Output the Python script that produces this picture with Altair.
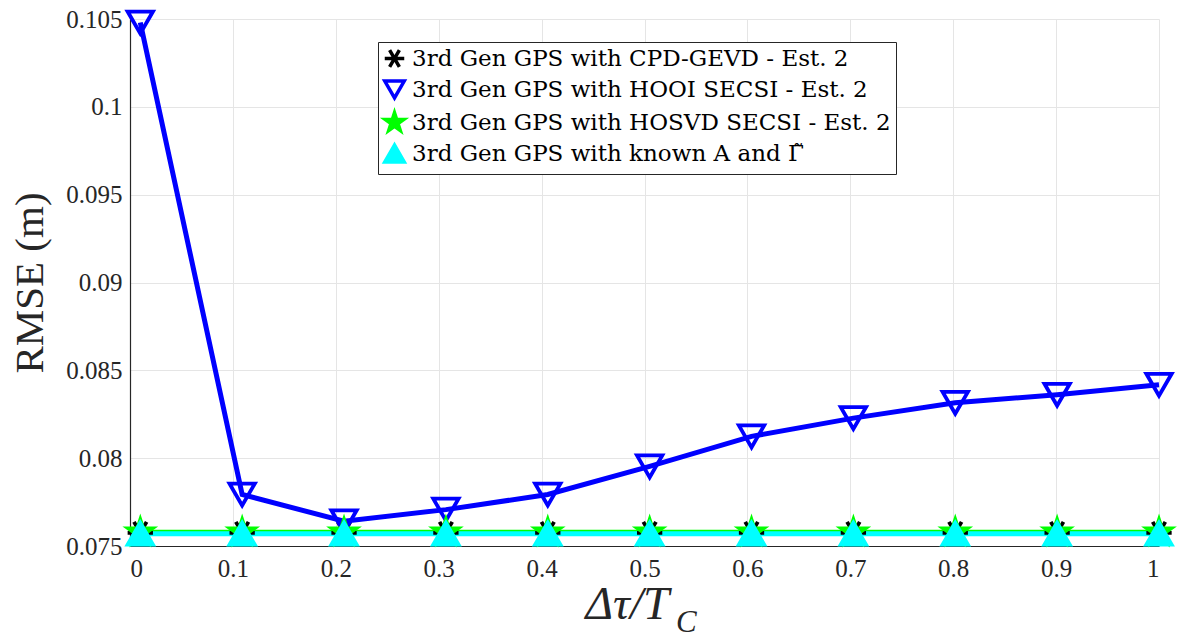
import altair as alt
import pandas as pd

x_vals = [0.01, 0.109, 0.208, 0.307, 0.406, 0.505, 0.604, 0.703, 0.802, 0.901, 1.0]
cpd_gevd = [0.07575] * 11
hooi_secsi = [0.1048, 0.07793, 0.07641, 0.07707, 0.07793, 0.07953, 0.08124, 0.08228, 0.08315, 0.08361, 0.08418]
hosvd_secsi = [0.07578] * 11
known_a = [0.07570] * 11

series_names = [
    "3rd Gen GPS with CPD-GEVD - Est. 2",
    "3rd Gen GPS with HOOI SECSI - Est. 2",
    "3rd Gen GPS with HOSVD SECSI - Est. 2",
    "3rd Gen GPS with known A and \u0393\u0303",
]
series_values = [cpd_gevd, hooi_secsi, hosvd_secsi, known_a]
y_ticks = [0.075, 0.08, 0.085, 0.09, 0.095, 0.1, 0.105]
x_ticks = [0, 0.1, 0.2, 0.3, 0.4, 0.5, 0.6, 0.7, 0.8, 0.9, 1.0]

rows = []
for order, (name, vals) in enumerate(zip(series_names, series_values)):
    for xv, yv in zip(x_vals, vals):
        rows.append({"x": xv, "y": yv, "series": name, "order": order})
df = pd.DataFrame(rows)

stroke_colors = ["#000000", "#0000ff", "#00ff00", "#00ffff"]
fill_colors = ["#000000", "transparent", "#00ff00", "#00ffff"]
asterisk = "M-1,0L1,0M-0.5,-0.866L0.5,0.866M-0.5,0.866L0.5,-0.866"
star = ("M0,-1L0.2245,-0.309L0.951,-0.309L0.363,0.118L0.588,0.809L0,0.382"
        "L-0.588,0.809L-0.363,0.118L-0.951,-0.309L-0.2245,-0.309Z")
shapes = [asterisk, "triangle-down", star, "triangle-up"]

FONT = "Liberation Serif"
LFONT = "DejaVu Serif"

xenc = alt.X("x:Q", scale=alt.Scale(domain=[0, 1], nice=False),
             axis=alt.Axis(values=x_ticks, format="~g", title="\u0394\u03c4/T",
                           titleFontSize=47, titleFontStyle="italic", titleFontWeight="normal",
                           titleX=455, titleY=72, titleAlign="left", titleBaseline="alphabetic",
                           labelPadding=10))
yenc = alt.Y("y:Q", scale=alt.Scale(domain=[0.075, 0.105], nice=False, zero=False),
             axis=alt.Axis(values=y_ticks, format="~g", title="RMSE (m)",
                           titleFontSize=41, titleFontWeight="normal", titlePadding=14,
                           labelPadding=8))

stroke_scale = alt.Scale(domain=series_names, range=stroke_colors)
legend = alt.Legend(title=None, orient="none", legendX=248, legendY=23,
                    labelFont=LFONT, labelFontSize=23)

lines = alt.Chart(df).mark_line(strokeWidth=5).encode(
    x=xenc, y=yenc,
    stroke=alt.Stroke("series:N", scale=stroke_scale, legend=legend),
    order="x:Q",
    detail="series:N",
)

points = alt.Chart(df).mark_point(filled=False, strokeWidth=3.8, size=640, opacity=1).encode(
    x="x:Q", y="y:Q",
    stroke=alt.Stroke("series:N", scale=stroke_scale, legend=legend),
    fill=alt.Fill("series:N", scale=alt.Scale(domain=series_names, range=fill_colors), legend=legend),
    shape=alt.Shape("series:N", scale=alt.Scale(domain=series_names, range=shapes), legend=legend),
    order="order:Q",
)

sub = alt.Chart(pd.DataFrame({"t": ["C"]})).mark_text(
    font=FONT, fontSize=31, fontStyle="italic", align="left", baseline="alphabetic", color="#262626"
).encode(text="t:N", x=alt.value(546), y=alt.value(613))

chart = alt.layer(lines, points, sub).properties(
    width=1029, height=527,
    autosize=alt.AutoSizeParams(type="none"),
    padding={"left": 130, "top": 19, "right": 18, "bottom": 88},
).configure(font=FONT).configure_view(stroke=None).configure_axis(
    labelFont=FONT, titleFont=FONT, labelFontSize=25, labelColor="#262626",
    titleColor="#262626", domainColor="#262626", domainWidth=1.2,
    gridColor="#e5e5e5", gridWidth=1, tickSize=0,
).configure_legend(
    fillColor="white", strokeColor="#262626", padding=5,
    labelFontSize=23, labelFont=LFONT, labelColor="black",
    symbolSize=380, symbolStrokeWidth=3.5, rowPadding=0, labelOffset=6,
    labelLimit=0,
)

chart.save("out.html", embed_options={"renderer": "svg", "actions": False})
